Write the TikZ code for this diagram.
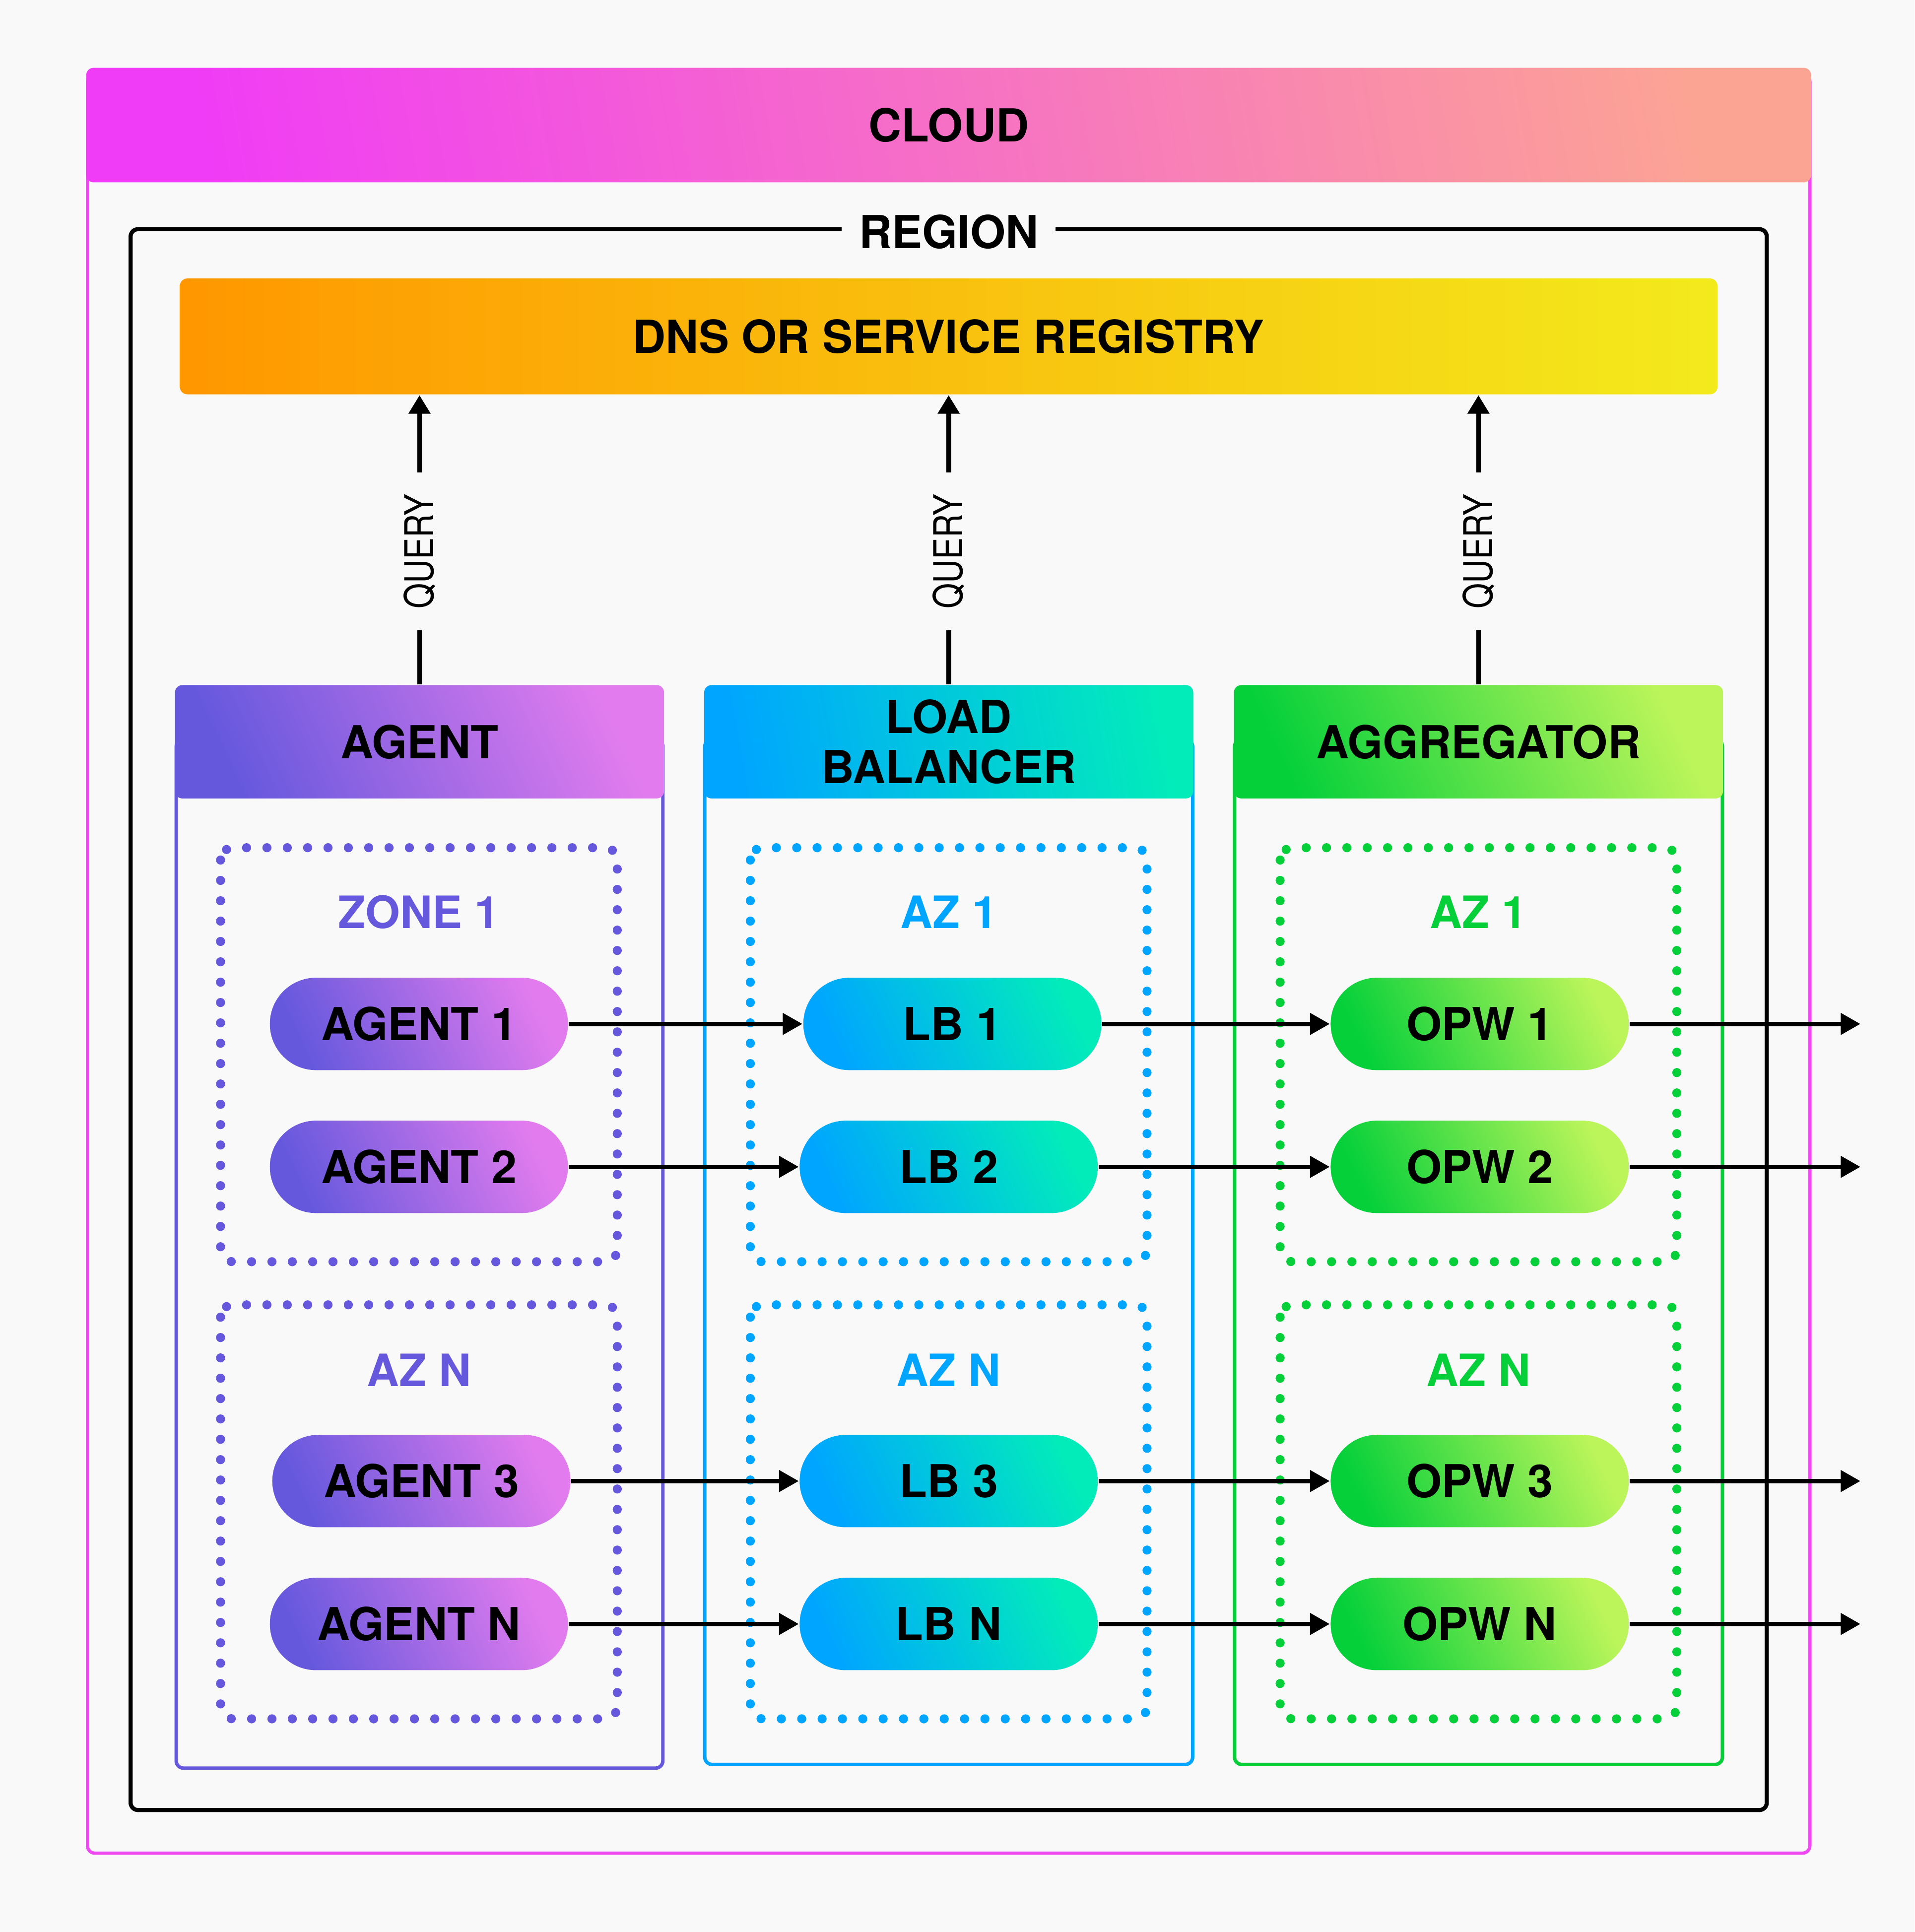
\documentclass[tikz,border=0pt]{standalone}
\usepackage{fontspec}
\setmainfont{TeX Gyre Heros}
\newfontfamily\queryfont[FakeStretch=0.82]{TeX Gyre Heros}
\usetikzlibrary{arrows.meta,positioning}

\definecolor{paper}{HTML}{F9F9F9}
\definecolor{cloudA}{HTML}{F03CF6}
\definecolor{cloudB}{HTML}{FCA494}
\definecolor{cloudline}{HTML}{EE48F2}
\definecolor{dnsA}{HTML}{FF9700}
\definecolor{dnsB}{HTML}{F3EA1C}
\definecolor{agentA}{HTML}{6558DD}
\definecolor{agentB}{HTML}{E27CEE}
\definecolor{lbA}{HTML}{00A5FF}
\definecolor{lbB}{HTML}{02ECBA}
\definecolor{aggA}{HTML}{05D03A}
\definecolor{aggB}{HTML}{BBF55A}

\newcommand{\bigfont}{\bfseries\fontsize{10.5}{11.6}\selectfont}

\tikzset{
  head/.style={minimum height=9.2mm, inner sep=0pt, rounded corners=0.6mm, font=\bigfont, align=center},
  pill/.style={minimum width=24.2mm, minimum height=7.5mm, inner sep=0pt, rounded corners=3.75mm, font=\bigfont},
  agentpill/.style={pill, left color=agentA, right color=agentB, shading angle=115},
  lbpill/.style={pill, left color=lbA, right color=lbB, shading angle=115},
  aggpill/.style={pill, left color=aggA, right color=aggB, shading angle=115},
  zonebox/.style={line width=2.1pt, line cap=round, dash pattern=on 0pt off 4.7pt, rounded corners=1mm},
  zonelabel/.style={font=\bfseries\fontsize{10.3}{12}\selectfont},
  body/.style={line width=0.8pt, rounded corners=0.6mm},
  flow/.style={line width=1pt, -{Triangle[length=1.6mm,width=1.7mm]}},
  query/.style={line width=1.1pt, -{Triangle[length=1.5mm,width=1.7mm]}},
  querylabel/.style={rotate=90, fill=paper, inner xsep=5pt, inner ysep=2pt, font=\queryfont\fontsize{9.2}{10}\selectfont},
}

\begin{document}
\begin{tikzpicture}[x=0.1mm, y=-0.1mm]
  \fill[paper] (0,0) rectangle (1554,1568);
  \useasboundingbox (0,0) rectangle (1554,1568);

  % cloud
  \draw[cloudline, line width=0.75pt, rounded corners=0.6mm] (71,60) rectangle (1469,1504);
  \node[head, minimum width=140mm, minimum height=9.3mm, left color=cloudA, right color=cloudB, shading angle=100] (cloud) at (770,101.5) {CLOUD};

  % region
  \draw[line width=0.95pt, rounded corners=0.6mm] (106,186) rectangle (1434,1469);
  \node[fill=paper, font=\bigfont, inner xsep=1.4mm, inner ysep=1mm] (region) at (770,188) {REGION};
  \node[head, minimum width=124.8mm, minimum height=9.4mm, left color=dnsA, right color=dnsB, shading angle=90] (dns) at (770,273) {DNS OR SERVICE REGISTRY};

  % agent column
  \draw[body, agentA] (143,600) rectangle (538,1435);
  \node[head, minimum width=39.7mm, left color=agentA, right color=agentB, shading angle=115] (agent) at (340.5,602) {AGENT};
  \draw[zonebox, agentA] (179,688) rectangle (501,1024);
  \node[zonelabel, text=agentA] (agentz1) at (340,740) {ZONE 1};
  \node[agentpill] (agent1) at (340,831) {AGENT 1};
  \node[agentpill] (agent2) at (340,947) {AGENT 2};
  \draw[zonebox, agentA] (179,1059) rectangle (501,1395);
  \node[zonelabel, text=agentA] (agentzn) at (340,1112) {AZ N};
  \node[agentpill] (agent3) at (342,1202) {AGENT 3};
  \node[agentpill] (agentn) at (340,1318) {AGENT N};

  % load balancer column
  \draw[body, lbA] (572,600) rectangle (968,1432);
  \node[head, minimum width=39.7mm, left color=lbA, right color=lbB, shading angle=100] (lb) at (770,602) {LOAD\\BALANCER};
  \draw[zonebox, lbA] (609,688) rectangle (931,1024);
  \node[zonelabel, text=lbA] (lbz1) at (770,740) {AZ 1};
  \node[lbpill] (lb1) at (773,831) {LB 1};
  \node[lbpill] (lb2) at (770,947) {LB 2};
  \draw[zonebox, lbA] (609,1059) rectangle (931,1395);
  \node[zonelabel, text=lbA] (lbzn) at (770,1112) {AZ N};
  \node[lbpill] (lb3) at (770,1202) {LB 3};
  \node[lbpill] (lbn) at (770,1318) {LB N};

  % aggregator column
  \draw[body, aggA] (1002,600) rectangle (1398,1432);
  \node[head, minimum width=39.7mm, left color=aggA, right color=aggB, shading angle=115] (agg) at (1200,602) {AGGREGATOR};
  \draw[zonebox, aggA] (1039,688) rectangle (1361,1024);
  \node[zonelabel, text=aggA] (aggz1) at (1200,740) {AZ 1};
  \node[aggpill] (opw1) at (1201,831) {OPW 1};
  \node[aggpill] (opw2) at (1201,947) {OPW 2};
  \draw[zonebox, aggA] (1039,1059) rectangle (1361,1395);
  \node[zonelabel, text=aggA] (aggzn) at (1200,1112) {AZ N};
  \node[aggpill] (opw3) at (1201,1202) {OPW 3};
  \node[aggpill] (opwn) at (1201,1318) {OPW N};

  % queries
  \draw[query] (agent.north) -- node[querylabel, pos=0.46] {QUERY} (agent.north |- dns.south);
  \draw[query] (lb.north) -- node[querylabel, pos=0.46] {QUERY} (lb.north |- dns.south);
  \draw[query] (agg.north) -- node[querylabel, pos=0.46] {QUERY} (agg.north |- dns.south);

  % flows
  \coordinate (out1) at (1510,831);
  \coordinate (out2) at (1510,947);
  \coordinate (out3) at (1510,1202);
  \coordinate (outn) at (1510,1318);
  \draw[flow] (agent1) -- (lb1);
  \draw[flow] (agent2) -- (lb2);
  \draw[flow] (agent3) -- (lb3);
  \draw[flow] (agentn) -- (lbn);
  \draw[flow] (lb1) -- (opw1);
  \draw[flow] (lb2) -- (opw2);
  \draw[flow] (lb3) -- (opw3);
  \draw[flow] (lbn) -- (opwn);
  \draw[flow] (opw1) -- (out1);
  \draw[flow] (opw2) -- (out2);
  \draw[flow] (opw3) -- (out3);
  \draw[flow] (opwn) -- (outn);
\end{tikzpicture}
\end{document}
